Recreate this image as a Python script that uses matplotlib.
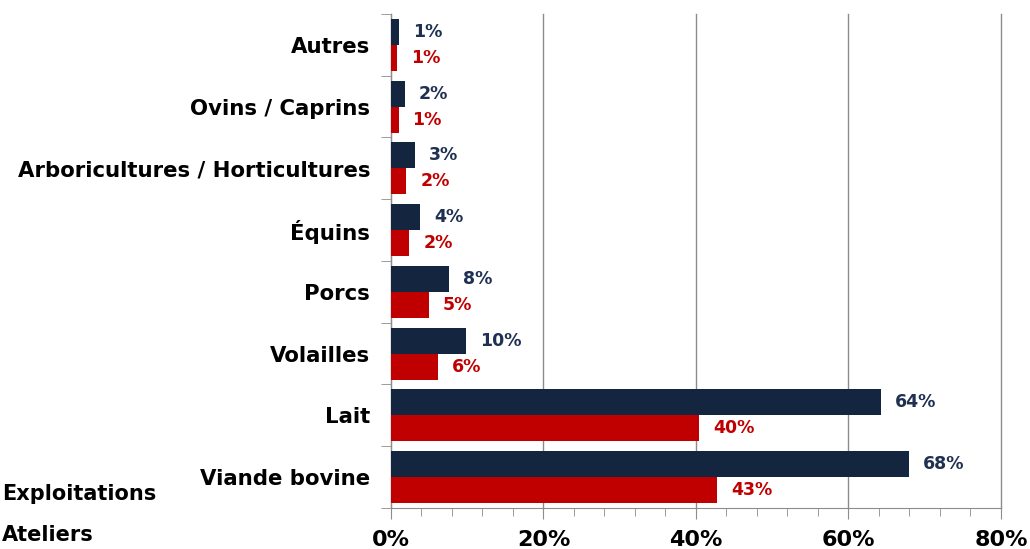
import matplotlib
matplotlib.use("Agg")

import numpy as np
import matplotlib.pyplot as plt
from matplotlib.ticker import MultipleLocator, FuncFormatter

# categories from bottom to top
categories = ["Viande bovine", "Lait", "Volailles", "Porcs", "Équins",
              "Arboricultures / Horticultures", "Ovins / Caprins", "Autres"]

# share of farms (navy) and of workshops (red), in %
exploitations = [67.9, 64.3, 9.8, 7.6, 3.8, 3.1, 1.8, 1.05]
ateliers = [42.8, 40.4, 6.2, 5.0, 2.4, 2.0, 1.0, 0.8]

navy = "#14253f"
red = "#c00000"
grid_grey = "#8c8c8c"

plt.rcParams["font.family"] = ["DejaVu Sans"]
plt.rcParams["font.weight"] = "bold"

fig = plt.figure(figsize=(10.3, 5.49), dpi=100)
ax = fig.add_axes([0.3796, 0.0747, 0.9718 - 0.3796, 0.9745 - 0.0747])

y = np.arange(len(categories))
h = 0.42
b1 = ax.barh(y + h / 2, exploitations, height=h, color=navy, zorder=3)
b2 = ax.barh(y - h / 2, ateliers, height=h, color=red, zorder=3)

# value labels just past the bar ends
for bars, vals, col in [(b1, exploitations, "#1f3050"), (b2, ateliers, red)]:
    for bar, v in zip(bars, vals):
        ax.annotate(f"{v:.0f}%", (bar.get_width(), bar.get_y() + bar.get_height() / 2),
                    xytext=(10, 0), textcoords="offset points",
                    va="center", ha="left", color=col, fontsize=12.5, fontweight="bold")

ax.set_xlim(0, 80)
ax.set_ylim(-0.5, len(categories) - 0.5)

ax.xaxis.set_major_locator(MultipleLocator(20))
ax.xaxis.set_minor_locator(MultipleLocator(4))
ax.xaxis.set_major_formatter(FuncFormatter(lambda v, p: f"{v:.0f}%"))
ax.tick_params(axis="x", which="major", length=8, color=grid_grey, labelsize=16, pad=8)
ax.tick_params(axis="x", which="minor", length=6, color=grid_grey)

ax.set_yticks(y)
ax.set_yticklabels(categories)
ax.set_yticks(np.arange(-0.5, len(categories)), minor=True)
ax.tick_params(axis="y", which="major", length=0, labelsize=15.3, pad=15)
ax.tick_params(axis="y", which="minor", length=7, color=grid_grey)

ax.grid(axis="x", color=grid_grey, linewidth=1, zorder=0)
for line in ax.get_xgridlines():
    line.set_clip_on(False)
for s in ["top", "right"]:
    ax.spines[s].set_visible(False)
for s in ["left", "bottom"]:
    ax.spines[s].set_color(grid_grey)

# legend entries as plain text, no markers
fig.text(0.002, 1 - 494 / 549, "Exploitations", fontsize=15, fontweight="bold", va="center", ha="left")
fig.text(0.002, 1 - 535 / 549, "Ateliers", fontsize=15, fontweight="bold", va="center", ha="left")

fig.savefig("out.png", dpi=100)
